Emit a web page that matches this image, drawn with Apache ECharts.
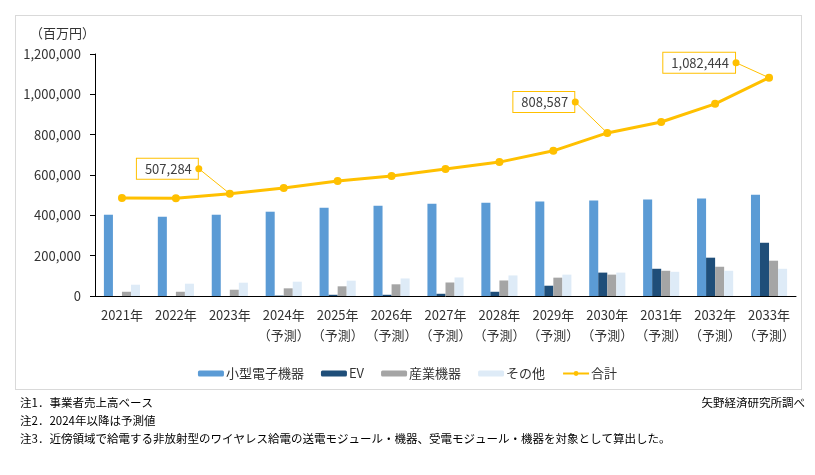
<!DOCTYPE html>
<html><head><meta charset="utf-8">
<script src="https://cdn.jsdelivr.net/npm/echarts@6/dist/echarts.min.js"></script>
<style>
html,body{margin:0;padding:0;background:#fff;}
#frame{position:absolute;left:15px;top:15px;width:787px;height:375px;border:1px solid #d9d9d9;box-sizing:border-box;}
#chart{position:absolute;left:0;top:0;width:815px;height:475px;}
</style></head>
<body>
<div id="frame"></div>
<div id="chart"></div>
<script>
const categories = ['2021年','2022年','2023年','2024年\n（予測）','2025年\n（予測）','2026年\n（予測）','2027年\n（予測）','2028年\n（予測）','2029年\n（予測）','2030年\n（予測）','2031年\n（予測）','2032年\n（予測）','2033年\n（予測）'];
const smallDevices = [403000,393000,403000,418000,438000,448000,458000,463000,468000,473000,478000,483000,502000];
const ev = [0,0,0,2000,6000,6000,11000,21000,51000,116000,135000,190000,264000];
const industrial = [21000,21000,31000,38000,48000,58000,67000,77000,91000,106000,125000,145000,175000];
const others = [56000,61000,66000,71000,76000,87000,92000,102000,106000,116000,120000,125000,135000];
const total = [486000,485000,507284,535000,570000,595000,630000,664000,720000,808587,863000,953000,1082444];
const annotated = [2, 9, 12];
const yTicks = [0,200000,400000,600000,800000,1000000,1200000];

const FONT = '"Noto Sans CJK JP", "Noto Sans", sans-serif';
const chart = echarts.init(document.getElementById('chart'), null, {renderer:'canvas'});
const fmt = v => v.toLocaleString('en-US');
const offsets = {2:[-32,-25], 9:[-33,-31], 12:[-34,-15]};

const option = {
  animation:false,
  textStyle:{fontFamily:FONT},
  grid:{left:95, right:19, top:54, bottom:179, containLabel:false},
  legend:{
    data:['小型電子機器','EV','産業機器','その他','合計'],
    left:'center', top:362, itemGap:17, itemWidth:26, itemHeight:6,
    textStyle:{fontSize:13,color:'#333',fontFamily:FONT,padding:[0,0,0,-3]}
  },
  xAxis:{
    type:'category', data:categories,
    axisLine:{lineStyle:{color:'#000',width:1}},
    axisTick:{show:false},
    axisLabel:{color:'#333',fontSize:13,lineHeight:20,margin:9,interval:0,fontFamily:FONT}
  },
  yAxis:{
    type:'value', min:yTicks[0], max:yTicks[yTicks.length-1], interval:200000,
    axisLine:{show:true,lineStyle:{color:'#000',width:1}},
    axisTick:{show:true,length:5,lineStyle:{color:'#000'}},
    splitLine:{show:false},
    axisLabel:{color:'#333',fontSize:13,margin:14,formatter:v=>fmt(v),fontFamily:FONT},
    name:'（百万円）', nameLocation:'end', nameGap:14,
    nameTextStyle:{color:'#333',fontSize:13,align:'right',padding:[0,0,0,0],fontFamily:FONT}
  },
  series:[
    {name:'小型電子機器',type:'bar',data:smallDevices,barGap:'0%',barCategoryGap:'33%',itemStyle:{color:'#5B9BD5'}},
    {name:'EV',type:'bar',data:ev,itemStyle:{color:'#1F4E79'}},
    {name:'産業機器',type:'bar',data:industrial,itemStyle:{color:'#A5A5A5'}},
    {name:'その他',type:'bar',data:others,itemStyle:{color:'#DEEBF7'}},
    {name:'合計',type:'line',data:total,symbol:'circle',symbolSize:8,
     lineStyle:{color:'#FFC000',width:3},itemStyle:{color:'#FFC000'},z:5},
    {type:'custom',z:10,
     data:annotated.map(i=>[i,total[i],i]),
     renderItem:function(params,api){
       const idx = api.value(2);
       const p = api.coord([api.value(0),api.value(1)]);
       const o = offsets[idx];
       const bx = p[0]+o[0], by = p[1]+o[1];
       return {type:'group',children:[
         {type:'line',shape:{x1:p[0],y1:p[1],x2:bx+1,y2:by},style:{stroke:'#FFC000',lineWidth:1}},
         {type:'text',style:{text:fmt(total[idx]),x:bx,y:by,align:'right',verticalAlign:'middle',
           fill:'#404040',fontSize:13,fontFamily:FONT,backgroundColor:'#fff',borderColor:'#FFC000',borderWidth:1,
           padding:[4,6,3,8]}},
         {type:'circle',shape:{cx:bx+1,cy:by,r:3.5},style:{fill:'#FFC000'}}
       ]};
     }
    }
  ],
  graphic:[
    {type:'text',left:20,top:397,style:{text:'注1．事業者売上高ベース',fontSize:11.5,fill:'#000',fontFamily:FONT}},
    {type:'text',left:20,top:415,style:{text:'注2．2024年以降は予測値',fontSize:11.5,fill:'#000',fontFamily:FONT}},
    {type:'text',left:20,top:433,style:{text:'注3．近傍領域で給電する非放射型のワイヤレス給電の送電モジュール・機器、受電モジュール・機器を対象として算出した。',fontSize:11.5,fill:'#000',fontFamily:FONT}},
    {type:'text',right:10,top:397,style:{text:'矢野経済研究所調べ',fontSize:11.5,fill:'#000',fontFamily:FONT}}
  ]
};
chart.setOption(option);
</script>
</body></html>
